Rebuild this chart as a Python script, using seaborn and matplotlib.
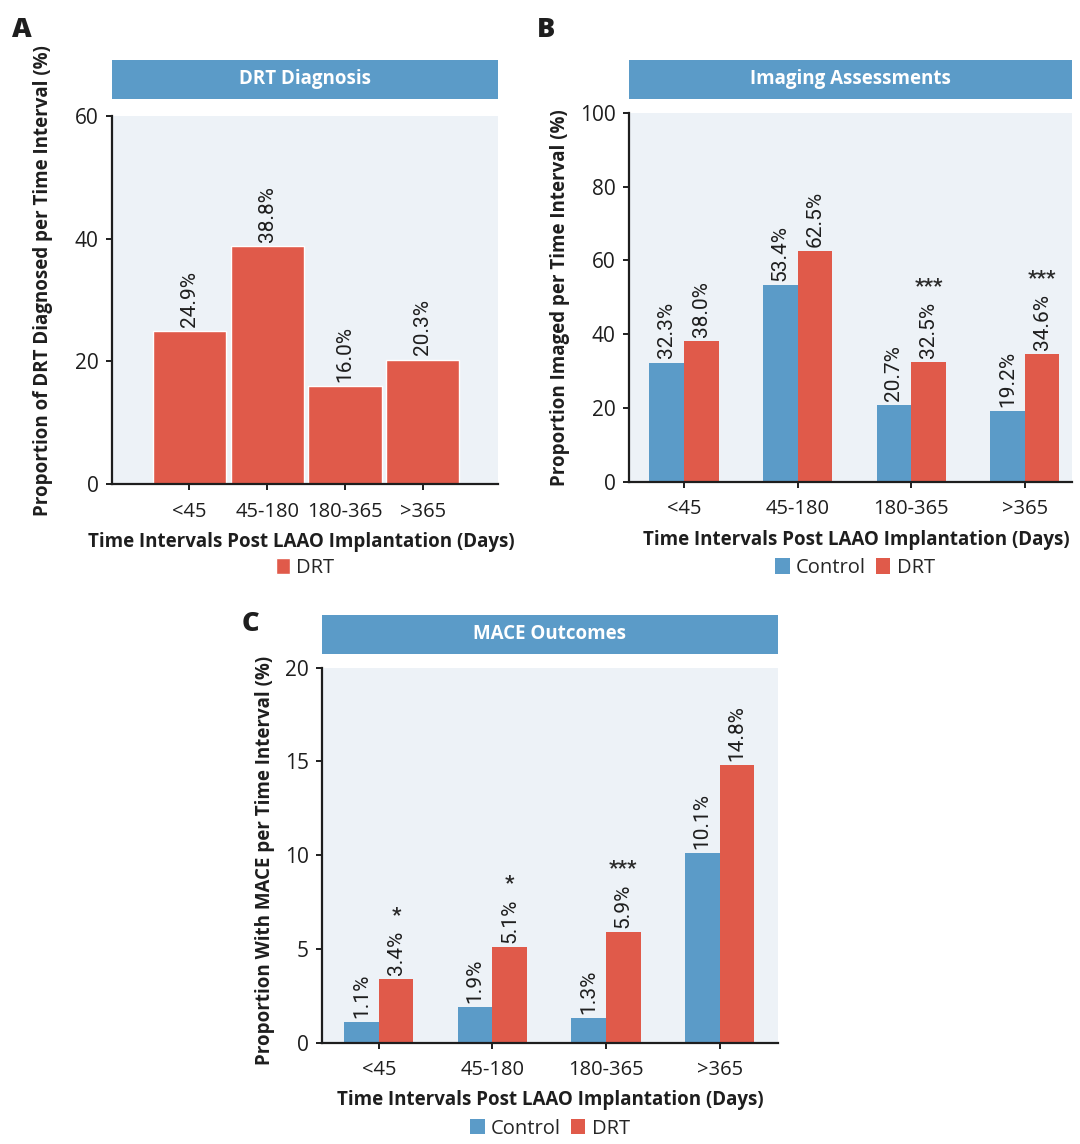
import matplotlib
matplotlib.use("Agg")
import matplotlib.pyplot as plt
import seaborn as sns
import pandas as pd
from matplotlib.patches import Rectangle

# ---------------- data ----------------
categories = ["<45", "45-180", "180-365", ">365"]
diag_drt = [24.9, 38.8, 16.0, 20.3]
img_control = [32.3, 53.4, 20.7, 19.2]
img_drt = [38.0, 62.5, 32.5, 34.6]
img_sig = ["", "", "***", "***"]
mace_control = [1.1, 1.9, 1.3, 10.1]
mace_drt = [3.4, 5.1, 5.9, 14.8]
mace_sig = ["*", "*", "***", ""]
groups = ["Control", "DRT"]

titles = ["DRT Diagnosis", "Imaging Assessments", "MACE Outcomes"]
ylabels = ["Proportion of DRT Diagnosed per Time Interval (%)",
           "Proportion Imaged per Time Interval (%)",
           "Proportion With MACE per Time Interval (%)"]
xlabel_text = "Time Intervals Post LAAO Implantation (Days)"
panel_letters = ["A", "B", "C"]

# ---------------- style ----------------
BLUE = "#5B9BC8"
RED = "#E05A4A"
BG = "#EDF2F7"
INK = "#1E1E1E"
W, H = 1080, 1144

sns.set_theme(style="ticks")
plt.rcParams["font.family"] = ["Open Sans", "DejaVu Sans"]
VAL_FONT = ["Roboto", "DejaVu Sans"]

fig = plt.figure(figsize=(W / 100, H / 100), dpi=100)


def px_axes(l, t, r, b):
    return fig.add_axes([l / W, 1 - b / H, (r - l) / W, (b - t) / H])


def fx(x):
    return x / W


def fy(y):
    return 1 - y / H


axA = px_axes(112, 115.7, 497.6, 484.2)
axB = px_axes(628.8, 112.9, 1072, 481.6)
axC = px_axes(322, 667.7, 777.5, 1042.7)

dfA = pd.DataFrame({"Interval": categories, "Value": diag_drt, "Group": ["DRT"] * 4})
dfB = pd.DataFrame({"Interval": categories * 2, "Value": img_control + img_drt,
                    "Group": [groups[0]] * 4 + [groups[1]] * 4})
dfC = pd.DataFrame({"Interval": categories * 2, "Value": mace_control + mace_drt,
                    "Group": [groups[0]] * 4 + [groups[1]] * 4})
pal = {"Control": BLUE, "DRT": RED}

sns.barplot(data=dfA, x="Interval", y="Value", hue="Group", hue_order=["DRT"],
            palette=pal, saturation=1, width=0.94, errorbar=None, ax=axA, legend=True,
            edgecolor="white", linewidth=1.0)
sns.barplot(data=dfB, x="Interval", y="Value", hue="Group", hue_order=groups,
            palette=pal, saturation=1, width=0.61, errorbar=None, ax=axB, legend=True,
            linewidth=0)
sns.barplot(data=dfC, x="Interval", y="Value", hue="Group", hue_order=groups,
            palette=pal, saturation=1, width=0.61, errorbar=None, ax=axC, legend=True,
            linewidth=0)

configs = [
    (axA, (0, 60), [0, 20, 40, 60], (-0.995, 3.96), [None]),
    (axB, (0, 100), [0, 20, 40, 60, 80, 100], (-0.485, 3.415), [None, img_sig]),
    (axC, (0, 20), [0, 5, 10, 15, 20], (-0.5, 3.51), [None, mace_sig]),
]

for ax, ylim, yticks, xlim, sigs in configs:
    ax.set_facecolor(BG)
    ax.set_ylim(*ylim)
    ax.set_yticks(yticks)
    ax.set_xlim(*xlim)
    ax.set_xlabel("")
    ax.set_ylabel("")
    for s in ["top", "right"]:
        ax.spines[s].set_visible(False)
    for s in ["left", "bottom"]:
        ax.spines[s].set_linewidth(1.6)
        ax.spines[s].set_color(INK)
    ax.tick_params(axis="y", length=4.5, width=1.4, color=INK, labelcolor=INK,
                   labelsize=15, pad=5)
    ax.tick_params(axis="x", length=4.5, width=1.4, color=INK, labelcolor=INK,
                   labelsize=14.5, pad=8)
    for lab in ax.get_xticklabels() + ax.get_yticklabels():
        lab.set_fontweight("medium")
    for ci, cont in enumerate(ax.containers):
        sig = sigs[ci] if ci < len(sigs) else None
        for bi, bar in enumerate(cont):
            h = bar.get_height()
            x = bar.get_x() + bar.get_width() / 2
            t = ax.annotate(f"{h:.1f}%", (x, h), xytext=(0, 3), textcoords="offset points",
                            rotation=90, ha="center", va="bottom", fontsize=15,
                            family=VAL_FONT, color=INK)
            if sig is not None and sig[bi]:
                ax.annotate(sig[bi], xy=(0.5, 1.0), xycoords=t, xytext=(0, 11),
                            textcoords="offset points", ha="center", va="center",
                            fontsize=15, fontweight="bold", family=VAL_FONT,
                            color="#2A2A2A")

# banners with titles
banner_px = [(112, 60.2, 497.6, 98.6), (628.8, 60.2, 1072, 98.6), (322, 614.6, 777.5, 653.8)]
for (l, t, r, b), title in zip(banner_px, titles):
    fig.add_artist(Rectangle((fx(l), fy(b)), (r - l) / W, (b - t) / H,
                             transform=fig.transFigure, facecolor=BLUE, edgecolor="none"))
    fig.text(fx((l + r) / 2), fy((t + b) / 2), title, ha="center", va="center",
             color="white", fontsize=13.5, fontweight="bold")

# x labels
for cx, base in [(301.7, 547), (856, 545.5), (550, 1105)]:
    fig.text(fx(cx), fy(base), xlabel_text, ha="center", va="baseline",
             fontsize=13.5, fontweight="bold", color=INK)

# y labels
for (cx, cy), lab in zip([(43, 281), (560.5, 298), (265, 860)], ylabels):
    fig.text(fx(cx), fy(cy), lab, ha="center", va="center", rotation=90,
             fontsize=13.5, fontweight="bold", color=INK)

# panel letters
for (lx, base), letter in zip([(12, 37), (537, 37), (242, 631)], panel_letters):
    fig.text(fx(lx), fy(base), letter, ha="left", va="baseline", fontsize=19.5,
             fontweight="heavy", color=INK)

# legends
for ax, (cx, cy), ncol in [(axA, (305, 568), 1), (axB, (855, 568), 2), (axC, (550, 1128.5), 2)]:
    sns.move_legend(ax, "center", bbox_to_anchor=(fx(cx), fy(cy)),
                    bbox_transform=fig.transFigure, ncol=ncol, title=None,
                    frameon=False, fontsize=14.5, handlelength=0.72, handleheight=0.78,
                    handletextpad=0.3, columnspacing=0.5, borderpad=0, borderaxespad=0)

fig.savefig("out.png", dpi=100, facecolor="white")
